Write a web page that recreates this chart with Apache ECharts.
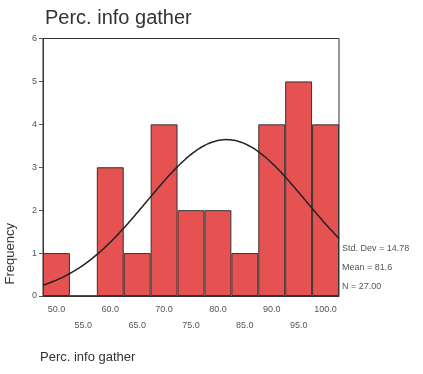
<!DOCTYPE html>
<html>
<head>
<meta charset="utf-8">
<script src="https://cdn.jsdelivr.net/npm/echarts@6/dist/echarts.min.js"></script>
<style>
html,body{margin:0;padding:0;background:#fff;}
#chart{width:423px;height:374px;}
</style>
</head>
<body>
<div id="chart"></div>
<script>
// Histogram of "Perc. info gather" (bin width 5) with a fitted normal curve
const binMids = ['50.0','55.0','60.0','65.0','70.0','75.0','80.0','85.0','90.0','95.0','100.0'];
const frequencies = [1, 0, 3, 1, 4, 2, 2, 1, 4, 5, 4];
const yTicks = [0, 1, 2, 3, 4, 5, 6];

const stdDev = 14.78;
const mean = 81.6;
const nCases = 27;
const binWidth = 5;
const xLow = 47.5, xHigh = 102.5;

// Normal curve scaled to counts: N * binWidth * pdf(x)
const curve = [];
for (let x = xLow; x <= xHigh + 1e-9; x += 0.5) {
  const z = (x - mean) / stdDev;
  const y = nCases * binWidth * Math.exp(-0.5 * z * z) / (stdDev * Math.sqrt(2 * Math.PI));
  curve.push([x, y]);
}

const font = 'Liberation Sans, Arial';
const gray = '#555';
const chart = echarts.init(document.getElementById('chart'));
chart.setOption({
  animation: false,
  backgroundColor: '#fff',
  title: {
    text: 'Perc. info gather',
    left: 40, top: 3,
    textStyle: { fontFamily: font, fontSize: 20, fontWeight: 'normal', color: '#333' }
  },
  grid: { left: 43, right: 84, top: 38.5, bottom: 78, show: true, borderColor: '#333', borderWidth: 1 },
  xAxis: [
    {
      type: 'category',
      data: binMids,
      axisLine: { lineStyle: { color: '#333' } },
      axisTick: { alignWithLabel: true, length: 3, lineStyle: { color: '#555' } },
      axisLabel: {
        interval: 0,
        color: gray,
        fontFamily: font,
        fontSize: 9,
        lineHeight: 16,
        margin: 6,
        formatter: (v, i) => (i % 2 ? '\n' + v : v)
      }
    },
    {
      type: 'value',
      min: xLow, max: xHigh,
      show: false
    }
  ],
  yAxis: {
    type: 'value',
    min: 0, max: 6, interval: 1,
    axisLine: { show: true, lineStyle: { color: '#333' } },
    axisTick: { show: true, length: 4, lineStyle: { color: '#555' } },
    axisLabel: { color: gray, fontFamily: font, fontSize: 9, margin: 6,
      formatter: v => (yTicks.includes(v) ? String(v) : '') },
    splitLine: { show: false }
  },
  series: [
    {
      type: 'bar',
      xAxisIndex: 0,
      data: frequencies,
      barCategoryGap: '0%',
      itemStyle: { color: '#e65252', borderColor: '#333', borderWidth: 1 }
    },
    {
      type: 'line',
      xAxisIndex: 1,
      data: curve,
      showSymbol: false,
      smooth: true,
      lineStyle: { color: '#222', width: 1.5 },
      z: 5
    }
  ],
  graphic: [
    { type: 'text', left: 4, top: 223, rotation: Math.PI / 2,
      style: { text: 'Frequency', fontFamily: font, fontSize: 13, fill: '#333' } },
    { type: 'text', left: 342, top: 244, style: { text: 'Std. Dev = ' + stdDev.toFixed(2), fontFamily: font, fontSize: 9, fill: gray } },
    { type: 'text', left: 342, top: 263, style: { text: 'Mean = ' + mean.toFixed(1), fontFamily: font, fontSize: 9, fill: gray } },
    { type: 'text', left: 342, top: 282, style: { text: 'N = ' + nCases.toFixed(2), fontFamily: font, fontSize: 9, fill: gray } },
    { type: 'text', left: 40, top: 351, style: { text: 'Perc. info gather', fontFamily: font, fontSize: 13, fill: '#333' } }
  ]
});
</script>
</body>
</html>
